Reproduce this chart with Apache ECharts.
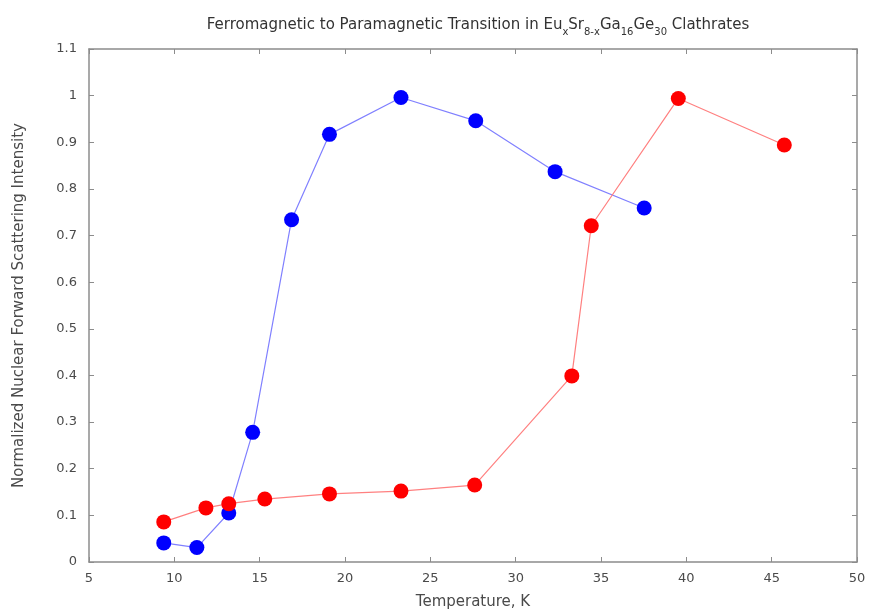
<!DOCTYPE html>
<html><head><meta charset="utf-8">
<script src="https://cdn.jsdelivr.net/npm/echarts@6/dist/echarts.min.js"></script>
<style>html,body{margin:0;padding:0;background:#fff}#c{width:869px;height:615px}</style>
</head><body><div id="c"></div>
<script>
var blueT = [9.38, 11.32, 13.19, 14.59, 16.87, 19.09, 23.28, 27.66, 32.31, 37.53];
var blueV = [0.041, 0.031, 0.105, 0.278, 0.734, 0.917, 0.996, 0.946, 0.837, 0.759];
var redT = [9.38, 11.85, 13.19, 15.3, 19.09, 23.28, 27.6, 33.29, 34.43, 39.53, 45.74];
var redV = [0.086, 0.116, 0.125, 0.135, 0.146, 0.152, 0.165, 0.399, 0.721, 0.994, 0.894];
var xTicks = [5, 10, 15, 20, 25, 30, 35, 40, 45, 50];
var yTicks = [0, 0.1, 0.2, 0.3, 0.4, 0.5, 0.6, 0.7, 0.8, 0.9, 1, 1.1];

function pairs(xs, ys) { return xs.map(function (x, i) { return [x, ys[i]]; }); }

var font = 'DejaVu Sans';
var axisCol = '#8c8c8c';
var txtCol = '#4a4a4a';
var chart = echarts.init(document.getElementById('c'));
var baseX = {
  type: 'value', min: xTicks[0], max: xTicks[xTicks.length - 1], interval: 5,
  axisLine: { show: true, onZero: false, lineStyle: { color: axisCol, width: 1.5 } },
  axisTick: { show: true, inside: true, length: 5, lineStyle: { color: axisCol } },
  splitLine: { show: false }
};
var baseY = {
  type: 'value', min: yTicks[0], max: yTicks[yTicks.length - 1], interval: 0.1,
  axisLine: { show: true, onZero: false, lineStyle: { color: axisCol, width: 1.5 } },
  axisTick: { show: true, inside: true, length: 5, lineStyle: { color: axisCol } },
  splitLine: { show: false }
};
chart.setOption({
  animation: false,
  textStyle: { fontFamily: font },
  title: {
    text: '{m|Ferromagnetic to Paramagnetic Transition in Eu}{s|x}{m|Sr}{s|8-x}{m|Ga}{s|16}{m|Ge}{s|30}{m| Clathrates}',
    left: 473, textAlign: 'center', top: 10,
    textStyle: {
      fontWeight: 'normal',
      rich: {
        m: { fontSize: 15, color: '#333', fontFamily: font, fontWeight: 'normal', lineHeight: 18, verticalAlign: 'bottom' },
        s: { fontSize: 10, color: '#333', fontFamily: font, fontWeight: 'normal', lineHeight: 18, verticalAlign: 'bottom', padding: [0, 0, -4, 0] }
      }
    }
  },
  grid: { left: 89, right: 12, top: 49, bottom: 51, containLabel: false },
  xAxis: [
    Object.assign({}, baseX, {
      position: 'bottom',
      name: 'Temperature, K', nameLocation: 'middle', nameGap: 33,
      nameTextStyle: { color: txtCol, fontSize: 15, fontFamily: font },
      axisLabel: { color: txtCol, fontSize: 13, margin: 10, fontFamily: font }
    }),
    Object.assign({}, baseX, { position: 'top', axisLabel: { show: false } })
  ],
  yAxis: [
    Object.assign({}, baseY, {
      position: 'left',
      name: 'Normalized Nuclear Forward Scattering Intensity', nameLocation: 'middle', nameGap: 62,
      nameTextStyle: { color: txtCol, fontSize: 15, fontFamily: font },
      axisLabel: { color: txtCol, fontSize: 13, margin: 12, fontFamily: font }
    }),
    Object.assign({}, baseY, { position: 'right', axisLabel: { show: false } })
  ],
  series: [
    {
      type: 'line', xAxisIndex: 0, yAxisIndex: 0,
      data: pairs(blueT, blueV),
      symbol: 'circle', symbolSize: 15,
      itemStyle: { color: '#0000ff' },
      lineStyle: { color: '#8080ff', width: 1.2 }
    },
    {
      type: 'line', xAxisIndex: 0, yAxisIndex: 0,
      data: pairs(redT, redV),
      symbol: 'circle', symbolSize: 15,
      itemStyle: { color: '#ff0000' },
      lineStyle: { color: '#ff8080', width: 1.2 }
    }
  ]
});
</script></body></html>
